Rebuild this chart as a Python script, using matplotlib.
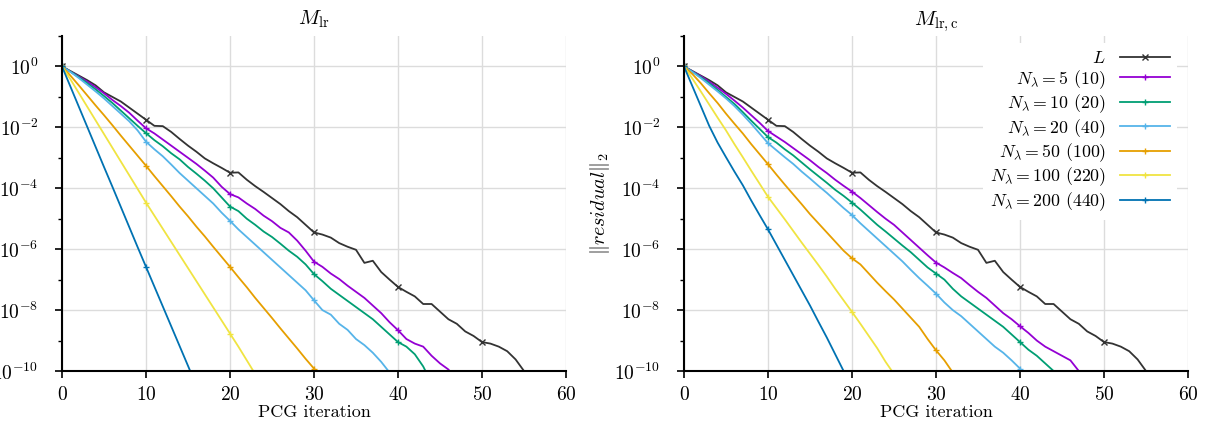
import matplotlib
matplotlib.use("Agg")
import matplotlib.pyplot as plt
import numpy as np
from matplotlib.ticker import FixedLocator, FuncFormatter

plt.rcParams["font.family"] = "serif"
plt.rcParams["font.serif"] = ["cmr10", "DejaVu Serif"]
plt.rcParams["mathtext.fontset"] = "cm"
plt.rcParams["axes.unicode_minus"] = False
plt.rcParams["axes.formatter.use_mathtext"] = True

# log10 of the residual norm, one value per PCG iteration
L_res = [0, -0.15, -0.3, -0.45, -0.62, -0.85, -1.0, -1.15, -1.35, -1.55, -1.75,
         -1.95, -1.96, -2.15, -2.38, -2.6, -2.8, -3.02, -3.18, -3.33, -3.49,
         -3.48, -3.72, -3.93, -4.12, -4.32, -4.52, -4.75, -4.95, -5.2, -5.45,
         -5.52, -5.62, -5.8, -5.92, -6.02, -6.45, -6.38, -6.75, -7.0, -7.24,
         -7.4, -7.55, -7.8, -7.8, -8.05, -8.3, -8.45, -8.7, -8.85, -9.05,
         -9.1, -9.2, -9.35, -9.62, -10.0, -10.5]

left_res = {
    "5": [0, -0.17, -0.33, -0.5, -0.68, -0.88, -1.1, -1.3, -1.52, -1.78, -2.03,
          -2.2, -2.4, -2.6, -2.8, -3.0, -3.2, -3.42, -3.65, -3.95, -4.19,
          -4.3, -4.5, -4.68, -4.9, -5.08, -5.3, -5.45, -5.72, -6.05, -6.41,
          -6.58, -6.8, -6.98, -7.2, -7.4, -7.6, -7.85, -8.1, -8.4, -8.66,
          -8.95, -9.1, -9.2, -9.5, -9.75, -9.95, -10.3],
    "10": [0, -0.17, -0.35, -0.55, -0.75, -0.97, -1.2, -1.45, -1.7, -1.95, -2.19,
           -2.42, -2.62, -2.85, -3.05, -3.3, -3.52, -3.75, -4.0, -4.3, -4.6,
           -4.75, -5.0, -5.2, -5.42, -5.6, -5.82, -6.05, -6.25, -6.5, -6.82,
           -7.05, -7.3, -7.5, -7.7, -7.9, -8.1, -8.3, -8.55, -8.8, -9.05,
           -9.2, -9.45, -9.85, -10.4],
    "20": [0, -0.18, -0.38, -0.6, -0.82, -1.05, -1.3, -1.55, -1.8, -2.1, -2.47,
           -2.72, -2.95, -3.22, -3.5, -3.75, -4.0, -4.25, -4.5, -4.8, -5.07,
           -5.35, -5.6, -5.85, -6.1, -6.35, -6.6, -6.85, -7.1, -7.35, -7.68,
           -8.0, -8.15, -8.45, -8.65, -8.95, -9.15, -9.4, -9.7, -10.05, -10.4],
    "50": [0, -0.3, -0.62, -0.95, -1.28, -1.6, -1.93, -2.27, -2.6, -2.93, -3.26,
           -3.6, -3.93, -4.26, -4.6, -4.92, -5.26, -5.58, -5.92, -6.25, -6.58,
           -6.92, -7.25, -7.6, -7.93, -8.26, -8.6, -8.93, -9.26, -9.6, -9.92,
           -10.25],
    "100": [0, -0.42, -0.87, -1.32, -1.77, -2.22, -2.67, -3.12, -3.57, -4.02, -4.47,
            -4.9, -5.33, -5.76, -6.19, -6.62, -7.05, -7.48, -7.91, -8.34, -8.77,
            -9.2, -9.65, -10.1],
    "200": [0, -0.66, -1.32, -1.98, -2.64, -3.3, -3.95, -4.61, -5.27, -5.93, -6.58,
            -7.23, -7.88, -8.53, -9.18, -9.83, -10.48],
}

right_res = {
    "5": [0, -0.16, -0.32, -0.5, -0.7, -0.9, -1.12, -1.35, -1.6, -1.85, -2.12,
          -2.3, -2.48, -2.68, -2.88, -3.08, -3.3, -3.5, -3.72, -3.92, -4.11,
          -4.32, -4.55, -4.78, -5.0, -5.2, -5.45, -5.7, -5.95, -6.2, -6.44,
          -6.6, -6.78, -6.95, -7.18, -7.4, -7.6, -7.85, -8.1, -8.3, -8.53,
          -8.75, -9.0, -9.2, -9.35, -9.5, -9.65, -10.0, -10.6],
    "10": [0, -0.17, -0.35, -0.55, -0.77, -1.0, -1.23, -1.5, -1.78, -2.05, -2.32,
           -2.5, -2.72, -2.92, -3.15, -3.38, -3.6, -3.82, -4.05, -4.25, -4.47,
           -4.7, -4.95, -5.2, -5.42, -5.65, -5.88, -6.1, -6.35, -6.6, -6.8,
           -7.0, -7.3, -7.55, -7.75, -7.95, -8.15, -8.35, -8.55, -8.8, -9.05,
           -9.3, -9.5, -9.75, -10.0, -10.5],
    "20": [0, -0.18, -0.38, -0.6, -0.82, -1.05, -1.3, -1.58, -1.88, -2.2, -2.52,
           -2.75, -2.98, -3.2, -3.45, -3.68, -3.92, -4.15, -4.4, -4.65, -4.88,
           -5.15, -5.4, -5.65, -5.9, -6.15, -6.4, -6.68, -6.95, -7.2, -7.46,
           -7.75, -8.0, -8.2, -8.45, -8.7, -8.95, -9.2, -9.4, -9.65, -9.92,
           -10.3],
    "50": [0, -0.25, -0.55, -0.88, -1.2, -1.55, -1.88, -2.2, -2.55, -2.88, -3.21,
           -3.55, -3.88, -4.2, -4.52, -4.85, -5.15, -5.45, -5.75, -6.05, -6.3,
           -6.5, -6.8, -7.1, -7.38, -7.65, -7.95, -8.25, -8.55, -8.95, -9.32,
           -9.65, -10.05],
    "100": [0, -0.4, -0.82, -1.25, -1.68, -2.1, -2.55, -2.98, -3.42, -3.85, -4.28,
            -4.65, -5.02, -5.4, -5.78, -6.15, -6.52, -6.9, -7.3, -7.68, -8.06,
            -8.45, -8.85, -9.25, -9.7, -10.1],
    "200": [0, -0.65, -1.3, -1.95, -2.5, -2.98, -3.45, -3.9, -4.4, -4.88, -5.35,
            -5.85, -6.35, -6.85, -7.35, -7.85, -8.38, -8.9, -9.45, -10.0, -10.55],
}

n_lambda = ["5", "10", "20", "50", "100", "200"]
n_coarse = ["10", "20", "40", "100", "220", "440"]
colors = ["#9400d3", "#009e73", "#56b4e9", "#e69f00", "#f0e442", "#0072b2"]
titles = [r"$M_{\mathrm{lr}}$", r"$M_{\mathrm{lr,c}}$"]

fig = plt.figure(figsize=(12.06, 4.23), dpi=100)
ax1 = fig.add_axes([62 / 1206, 1 - 371 / 423, 504 / 1206, 335 / 423])
ax2 = fig.add_axes([684 / 1206, 1 - 371 / 423, 504 / 1206, 335 / 423])


def draw(ax, res, title):
    y = 10.0 ** np.array(L_res)
    ax.plot(np.arange(len(L_res)), y, color="#333333", lw=1.3, marker="x",
            ms=4, mew=1, markevery=10, label=r"$L$")
    for key, coarse, c in zip(n_lambda, n_coarse, colors):
        vals = 10.0 ** np.array(res[key])
        ax.plot(np.arange(len(vals)), vals, color=c, lw=1.3, marker="+",
                ms=5, mew=1, markevery=10,
                label=r"$N_\lambda = %s$ (%s)" % (key, coarse))
    ax.set_yscale("log")
    ax.set_xlim(0, 60)
    ax.set_ylim(1e-10, 1e1)
    ax.set_xticks(range(0, 61, 10))
    ax.yaxis.set_major_locator(FixedLocator([10.0 ** e for e in range(-10, 1, 2)]))
    ax.yaxis.set_minor_locator(FixedLocator([10.0 ** e for e in range(-9, 2, 2)]))
    ax.yaxis.set_major_formatter(FuncFormatter(lambda v, p: r"$10^{%d}$" % round(np.log10(v))))
    ax.yaxis.set_minor_formatter(FuncFormatter(lambda v, p: ""))
    ax.grid(True, which="major", color="#dcdcdc", lw=1)
    ax.set_axisbelow(True)
    for s in ["top", "right"]:
        ax.spines[s].set_visible(False)
    for s in ["left", "bottom"]:
        ax.spines[s].set_linewidth(1.5)
    ax.tick_params(which="major", direction="out", length=5, width=1.2, labelsize=14)
    ax.tick_params(axis="y", which="major", pad=12)
    ax.tick_params(axis="x", which="major", pad=6)
    ax.tick_params(which="minor", direction="out", length=3, width=1)
    ax.set_xlabel("PCG iteration", fontsize=13, labelpad=0)
    ax.set_title(title, fontsize=15, pad=8)


draw(ax1, left_res, titles[0])
draw(ax2, right_res, titles[1])
ax2.set_ylabel(r"$\|residual\|_2$", fontsize=14.5, labelpad=2)
leg = ax2.legend(loc="upper right", bbox_to_anchor=(0.985, 0.99), markerfirst=False,
                 frameon=True, fancybox=False, edgecolor="none", framealpha=1,
                 fontsize=12.8, handlelength=2.8, labelspacing=0.1,
                 borderaxespad=0.2, handletextpad=0.8)

fig.savefig("out.png", dpi=100)
